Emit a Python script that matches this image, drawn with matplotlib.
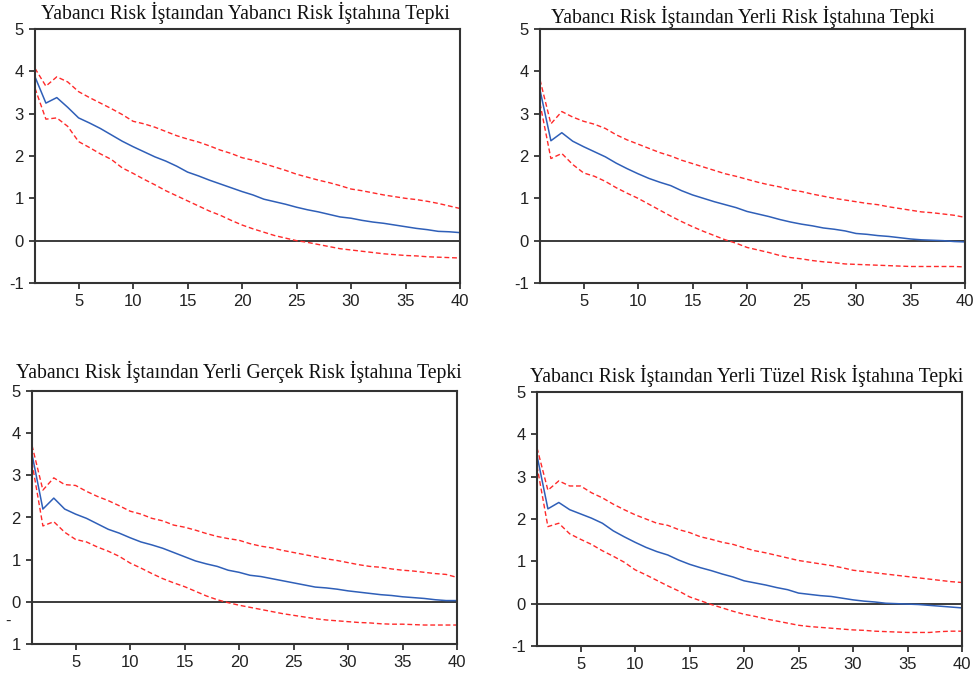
import matplotlib.pyplot as plt
import numpy as np

periods = np.arange(1, 41)

titles = [
    'Yabancı Risk İştaından Yabancı Risk İştahına Tepki',
    'Yabancı Risk İştaından Yerli Risk İştahına Tepki',
    'Yabancı Risk İştaından Yerli Gerçek Risk İştahına Tepki',
    'Yabancı Risk İştaından Yerli Tüzel Risk İştahına Tepki',
]

# panel 1: yabanci -> yabanci
resp_yabanci = [3.87, 3.25, 3.38, 3.15, 2.90, 2.78, 2.65, 2.50, 2.35, 2.22,
                2.10, 1.98, 1.88, 1.76, 1.62, 1.53, 1.43, 1.34, 1.25, 1.16,
                1.08, 0.98, 0.92, 0.86, 0.79, 0.73, 0.68, 0.62, 0.56, 0.53,
                0.48, 0.44, 0.41, 0.37, 0.33, 0.29, 0.26, 0.22, 0.21, 0.19]
upper_yabanci = [4.07, 3.65, 3.87, 3.75, 3.52, 3.38, 3.25, 3.12, 2.98, 2.82,
                 2.76, 2.68, 2.58, 2.48, 2.40, 2.33, 2.24, 2.14, 2.06, 1.96,
                 1.90, 1.82, 1.74, 1.66, 1.57, 1.50, 1.43, 1.37, 1.30, 1.22,
                 1.18, 1.13, 1.08, 1.04, 1.00, 0.97, 0.93, 0.88, 0.82, 0.76]
lower_yabanci = [3.60, 2.87, 2.90, 2.70, 2.34, 2.20, 2.05, 1.92, 1.72, 1.59,
                 1.45, 1.32, 1.18, 1.06, 0.94, 0.82, 0.70, 0.60, 0.48, 0.37,
                 0.28, 0.20, 0.12, 0.06, 0.00, -0.04, -0.09, -0.14, -0.19, -0.22,
                 -0.25, -0.28, -0.31, -0.33, -0.35, -0.36, -0.38, -0.39, -0.40, -0.41]

# panel 2: yabanci -> yerli
resp_yerli = [3.56, 2.36, 2.55, 2.35, 2.22, 2.10, 1.98, 1.83, 1.70, 1.58,
              1.47, 1.38, 1.30, 1.18, 1.08, 1.00, 0.92, 0.85, 0.78, 0.69,
              0.63, 0.57, 0.50, 0.44, 0.39, 0.35, 0.30, 0.27, 0.23, 0.17,
              0.15, 0.12, 0.10, 0.07, 0.04, 0.02, 0.01, 0.00, -0.02, -0.03]
upper_yerli = [3.80, 2.76, 3.05, 2.92, 2.82, 2.75, 2.65, 2.50, 2.38, 2.28,
               2.18, 2.08, 2.00, 1.90, 1.82, 1.74, 1.66, 1.58, 1.52, 1.45,
               1.38, 1.32, 1.27, 1.20, 1.16, 1.10, 1.05, 1.00, 0.96, 0.92,
               0.88, 0.85, 0.80, 0.76, 0.72, 0.68, 0.66, 0.63, 0.60, 0.55]
lower_yerli = [3.24, 1.94, 2.06, 1.80, 1.60, 1.52, 1.40, 1.25, 1.12, 1.00,
               0.86, 0.72, 0.58, 0.45, 0.33, 0.22, 0.12, 0.02, -0.06, -0.16,
               -0.22, -0.28, -0.35, -0.40, -0.43, -0.47, -0.50, -0.52, -0.55, -0.56,
               -0.57, -0.58, -0.59, -0.60, -0.61, -0.61, -0.61, -0.61, -0.61, -0.62]

# panel 3: yabanci -> yerli gercek
resp_gercek = [3.50, 2.20, 2.46, 2.20, 2.08, 1.98, 1.85, 1.72, 1.63, 1.52,
               1.42, 1.35, 1.27, 1.17, 1.07, 0.97, 0.90, 0.84, 0.75, 0.70,
               0.63, 0.60, 0.55, 0.50, 0.45, 0.40, 0.35, 0.33, 0.30, 0.26,
               0.23, 0.20, 0.17, 0.15, 0.12, 0.10, 0.08, 0.05, 0.03, 0.03]
upper_gercek = [3.71, 2.65, 2.94, 2.78, 2.76, 2.62, 2.50, 2.40, 2.28, 2.15,
                2.08, 1.98, 1.92, 1.82, 1.77, 1.70, 1.62, 1.55, 1.50, 1.46,
                1.38, 1.32, 1.28, 1.22, 1.17, 1.12, 1.07, 1.02, 0.98, 0.93,
                0.88, 0.84, 0.82, 0.78, 0.75, 0.73, 0.70, 0.67, 0.65, 0.58]
lower_gercek = [3.30, 1.80, 1.90, 1.65, 1.48, 1.42, 1.30, 1.20, 1.08, 0.92,
                0.80, 0.67, 0.55, 0.45, 0.36, 0.25, 0.14, 0.05, -0.02, -0.08,
                -0.13, -0.18, -0.23, -0.28, -0.32, -0.36, -0.40, -0.43, -0.45, -0.47,
                -0.49, -0.50, -0.52, -0.53, -0.53, -0.54, -0.55, -0.55, -0.55, -0.55]

# panel 4: yabanci -> yerli tuzel
resp_tuzel = [3.50, 2.24, 2.39, 2.22, 2.12, 2.02, 1.90, 1.72, 1.58, 1.45,
              1.33, 1.23, 1.15, 1.03, 0.93, 0.85, 0.78, 0.70, 0.63, 0.54,
              0.49, 0.44, 0.38, 0.33, 0.25, 0.22, 0.19, 0.17, 0.13, 0.09,
              0.06, 0.04, 0.01, 0.00, -0.01, -0.02, -0.04, -0.06, -0.08, -0.10]
upper_tuzel = [3.68, 2.68, 2.90, 2.78, 2.78, 2.62, 2.50, 2.35, 2.22, 2.10,
               2.00, 1.90, 1.85, 1.75, 1.68, 1.58, 1.52, 1.45, 1.40, 1.32,
               1.25, 1.20, 1.14, 1.08, 1.02, 0.98, 0.94, 0.90, 0.85, 0.79,
               0.76, 0.73, 0.70, 0.67, 0.64, 0.61, 0.58, 0.55, 0.52, 0.50]
lower_tuzel = [3.25, 1.82, 1.90, 1.65, 1.52, 1.40, 1.25, 1.12, 0.98, 0.80,
               0.68, 0.55, 0.42, 0.30, 0.16, 0.07, -0.02, -0.10, -0.18, -0.25,
               -0.30, -0.36, -0.41, -0.46, -0.51, -0.54, -0.56, -0.58, -0.60, -0.62,
               -0.63, -0.65, -0.66, -0.67, -0.68, -0.68, -0.68, -0.66, -0.65, -0.65]

responses = [resp_yabanci, resp_yerli, resp_gercek, resp_tuzel]
uppers = [upper_yabanci, upper_yerli, upper_gercek, upper_tuzel]
lowers = [lower_yabanci, lower_yerli, lower_gercek, lower_tuzel]

y_ticks = [-1, 0, 1, 2, 3, 4, 5]
x_ticks = [5, 10, 15, 20, 25, 30, 35, 40]

# axes boxes in pixels: left, right, top, bottom
W, H = 978, 679
boxes = [(35, 460, 29, 283), (540, 965, 29, 283),
         (32, 457, 391, 644), (537, 962, 392, 646)]
title_x = [0.496, 0.478, 0.487, 0.494]
title_pad = [7.2, 4.3, 9.4, 7.2]

fig = plt.figure(figsize=(W / 100, H / 100), dpi=100)

for i in range(4):
    l, r, t, b = boxes[i]
    ax = fig.add_axes([l / W, 1 - b / H, (r - l) / W, (b - t) / H])
    ax.plot(periods, responses[i], color='#2f5fb8', lw=1.1)
    ax.plot(periods, uppers[i], color='#ff2a2a', lw=1.0, ls=(0, (3.5, 2)))
    ax.plot(periods, lowers[i], color='#ff2a2a', lw=1.0, ls=(0, (3.5, 2)))
    ax.axhline(0, color='#1a1a1a', lw=1.2, zorder=1)
    ax.set_xlim(1, 40)
    ax.set_ylim(-1, 5)
    ax.set_xticks(x_ticks)
    ax.set_yticks(y_ticks)
    labels = [str(v) for v in y_ticks]
    if i == 2:
        labels[0] = '1'
    ax.set_yticklabels(labels)
    ax.tick_params(direction='out', length=4, width=1.2, pad=4, colors='#222222',
                   labelsize=12, labelcolor='#222222')
    for lab in ax.get_xticklabels() + ax.get_yticklabels():
        lab.set_family('Liberation Sans')
    for s in ax.spines.values():
        s.set_linewidth(1.5)
        s.set_color('#333333')
    ax.set_title(titles[i], fontsize=14.2, family='Liberation Serif',
                 x=title_x[i], pad=title_pad[i], color='#111111')
    if i == 2:
        # stray minus from the original export
        ax.text(-0.057, 0.09, '-', transform=ax.transAxes, fontsize=12,
                family='Liberation Sans', color='#222222', ha='center', va='center')

plt.savefig('out.png', dpi=100)
